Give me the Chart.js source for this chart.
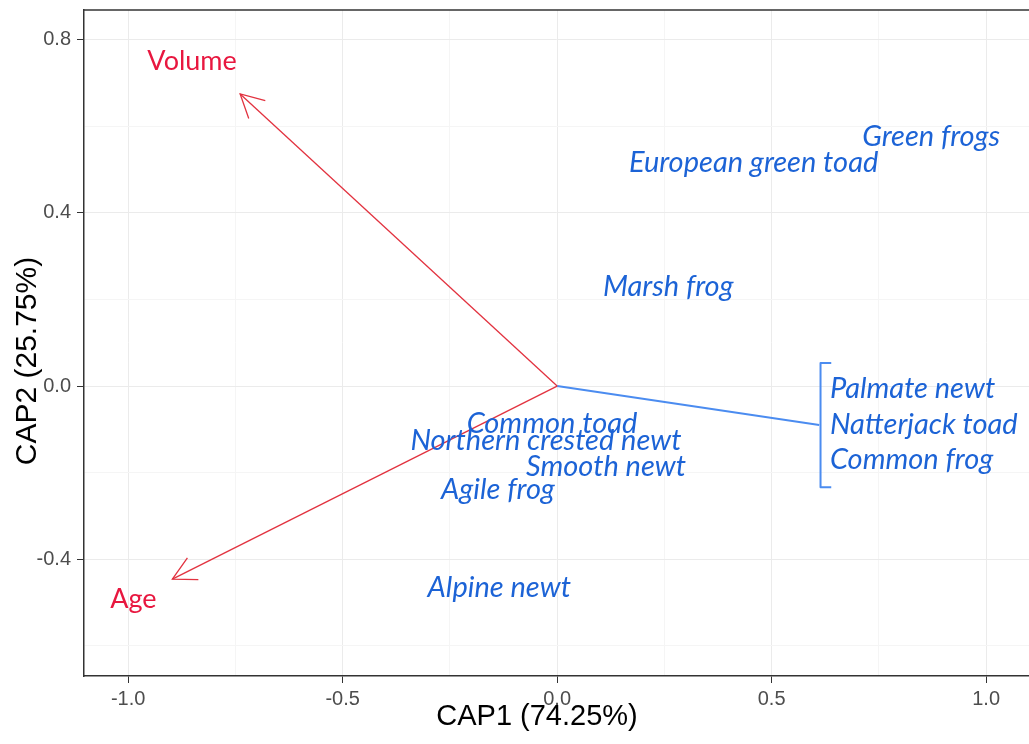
<!DOCTYPE html>
<html>
<head>
<meta charset="utf-8">
<script src="https://cdn.jsdelivr.net/npm/chart.js@4.4.1/dist/chart.umd.min.js"></script>
<style>
    html, body { margin: 0; padding: 0; background: #fff; }
    .wrap { width: 1029px; height: 744px; }
</style>
</head>
<body>
<div class="wrap"><canvas id="capChart"></canvas></div>
<script>
// species positions on CAP1 / CAP2
const speciesNames = ['Green frogs', 'European green toad', 'Marsh frog', 'Common toad', 'Northern crested newt', 'Smooth newt', 'Agile frog', 'Alpine newt'];
const speciesX = [0.872, 0.458, 0.259, -0.012, -0.026, 0.114, -0.138, -0.135];
const speciesY = [0.576, 0.516, 0.229, -0.086, -0.125, -0.187, -0.240, -0.465];

// species grouped behind the bracket (left aligned)
const groupNames = ['Palmate newt', 'Natterjack toad', 'Common frog'];
const groupX = [0.636, 0.636, 0.636];
const groupY = [-0.007, -0.090, -0.171];

// environmental vectors
const vectorNames = ['Volume', 'Age'];
const vectorX = [-0.739, -0.897];
const vectorY = [0.675, -0.446];
const vectorLabelX = [-0.851, -0.988];
const vectorLabelY = [0.751, -0.492];

// blue connector and bracket
const linkX = [0, 0.611];
const linkY = [0, -0.090];
const bracketX = [0.639, 0.614, 0.614, 0.639];
const bracketY = [0.053, 0.053, -0.234, -0.234];

// axis ticks (minor ones only carry a grid line)
const xTicks = [-1, -0.75, -0.5, -0.25, 0, 0.25, 0.5, 0.75, 1];
const yTicks = [-0.6, -0.4, -0.2, 0, 0.2, 0.4, 0.6, 0.8];
const xMajorStep = 0.5;
const yMajorStep = 0.4;
const xTitle = 'CAP1 (74.25%)';
const yTitle = 'CAP2 (25.75%)';

const RED = '#e8173f';
const RED_LINE = '#e2323f';
const BLUE_TEXT = '#1c63d6';
const BLUE_LINE = '#4b8cf0';

function isMajor(v, step) {
    const r = v / step;
    return Math.abs(r - Math.round(r)) < 1e-6;
}

function toPoints(xs, ys) {
    return xs.map((x, i) => ({ x: x, y: ys[i] }));
}

// 箭头 + 文字标注
const annotate = {
    id: 'annotate',
    afterDatasetsDraw(chart) {
        const { ctx, chartArea } = chart;
        ctx.save();

        // top frame line
        ctx.strokeStyle = '#333';
        ctx.lineWidth = 1.5;
        ctx.beginPath();
        ctx.moveTo(chartArea.left, chartArea.top);
        ctx.lineTo(chartArea.right, chartArea.top);
        ctx.stroke();

        chart.data.datasets.forEach((ds, di) => {
            const meta = chart.getDatasetMeta(di);
            if (ds.arrow) {
                const pts = meta.data;
                const p0 = pts[pts.length - 2], p1 = pts[pts.length - 1];
                const ang = Math.atan2(p1.y - p0.y, p1.x - p0.x) + Math.PI;
                const len = 26, spread = Math.PI * 28 / 180;
                ctx.strokeStyle = ds.borderColor;
                ctx.lineWidth = ds.borderWidth;
                ctx.beginPath();
                ctx.moveTo(p1.x + len * Math.cos(ang - spread), p1.y + len * Math.sin(ang - spread));
                ctx.lineTo(p1.x, p1.y);
                ctx.lineTo(p1.x + len * Math.cos(ang + spread), p1.y + len * Math.sin(ang + spread));
                ctx.stroke();
            }
            if (ds.textLabels) {
                ctx.font = ds.textFont;
                ctx.fillStyle = ds.textColor;
                ctx.textAlign = ds.textAlign;
                ctx.textBaseline = 'middle';
                meta.data.forEach((el, i) => {
                    ctx.fillText(ds.textLabels[i], el.x, el.y);
                });
            }
        });

        // axis titles
        ctx.fillStyle = '#000';
        ctx.font = '29px "Liberation Sans", Arial, sans-serif';
        ctx.textAlign = 'center';
        ctx.textBaseline = 'alphabetic';
        ctx.fillText(xTitle, 537, 725);

        ctx.save();
        ctx.translate(36, 361);
        ctx.rotate(-Math.PI / 2);
        ctx.font = '30px "Liberation Sans", Arial, sans-serif';
        ctx.fillText(yTitle, 0, 0);
        ctx.restore();

        ctx.restore();
    }
};

const ctx = document.getElementById('capChart').getContext('2d');
const chart = new Chart(ctx, {
    type: 'scatter',
    data: {
        datasets: [
            {
                type: 'line',
                data: toPoints([0, vectorX[0]], [0, vectorY[0]]),
                borderColor: RED_LINE,
                borderWidth: 1.3,
                pointRadius: 0,
                arrow: true
            },
            {
                type: 'line',
                data: toPoints([0, vectorX[1]], [0, vectorY[1]]),
                borderColor: RED_LINE,
                borderWidth: 1.3,
                pointRadius: 0,
                arrow: true
            },
            {
                type: 'line',
                data: toPoints(linkX, linkY),
                borderColor: BLUE_LINE,
                borderWidth: 2,
                pointRadius: 0
            },
            {
                type: 'line',
                data: toPoints(bracketX, bracketY),
                borderColor: BLUE_LINE,
                borderWidth: 2,
                pointRadius: 0,
                borderJoinStyle: 'round'
            },
            {
                data: toPoints(vectorLabelX, vectorLabelY),
                pointRadius: 0,
                textLabels: vectorNames,
                textFont: '27px Lato, sans-serif',
                textColor: RED,
                textAlign: 'center'
            },
            {
                data: toPoints(speciesX, speciesY),
                pointRadius: 0,
                textLabels: speciesNames,
                textFont: 'italic 29px Lato, sans-serif',
                textColor: BLUE_TEXT,
                textAlign: 'center'
            },
            {
                data: toPoints(groupX, groupY),
                pointRadius: 0,
                textLabels: groupNames,
                textFont: 'italic 29px Lato, sans-serif',
                textColor: BLUE_TEXT,
                textAlign: 'left'
            }
        ]
    },
    options: {
        responsive: true,
        maintainAspectRatio: false,
        animation: false,
        layout: { padding: { top: 10, right: 0, bottom: 0, left: 0 } },
        plugins: {
            legend: { display: false },
            tooltip: { enabled: false }
        },
        scales: {
            x: {
                type: 'linear',
                min: -1.103,
                max: 1.100,
                afterBuildTicks: s => { s.ticks = xTicks.map(v => ({ value: v })); },
                afterFit: s => { s.height = 68; s.paddingLeft = 0; s.paddingRight = 0; },
                ticks: {
                    autoSkip: false,
                    maxRotation: 0,
                    padding: 4,
                    color: '#4d4d4d',
                    font: { family: '"Liberation Sans", Arial, sans-serif', size: 20 },
                    callback: v => isMajor(v, xMajorStep) ? v.toFixed(1) : ''
                },
                grid: {
                    color: c => isMajor(c.tick.value, xMajorStep) ? '#ebebeb' : '#f5f5f5',
                    tickColor: c => isMajor(c.tick.value, xMajorStep) ? '#333' : 'rgba(0,0,0,0)',
                    tickLength: 7,
                    lineWidth: 1
                },
                border: { color: '#333', width: 1.5 }
            },
            y: {
                type: 'linear',
                min: -0.670,
                max: 0.869,
                afterBuildTicks: s => { s.ticks = yTicks.map(v => ({ value: v })); },
                afterFit: s => { s.width = 84; s.paddingTop = 0; s.paddingBottom = 0; },
                ticks: {
                    autoSkip: false,
                    padding: 6,
                    color: '#4d4d4d',
                    font: { family: '"Liberation Sans", Arial, sans-serif', size: 20 },
                    callback: v => isMajor(v, yMajorStep) ? v.toFixed(1) : ''
                },
                grid: {
                    color: c => isMajor(c.tick.value, yMajorStep) ? '#ebebeb' : '#f5f5f5',
                    tickColor: c => isMajor(c.tick.value, yMajorStep) ? '#333' : 'rgba(0,0,0,0)',
                    tickLength: 7,
                    lineWidth: 1
                },
                border: { color: '#333', width: 1.5 }
            }
        }
    },
    plugins: [annotate]
});
</script>
</body>
</html>
